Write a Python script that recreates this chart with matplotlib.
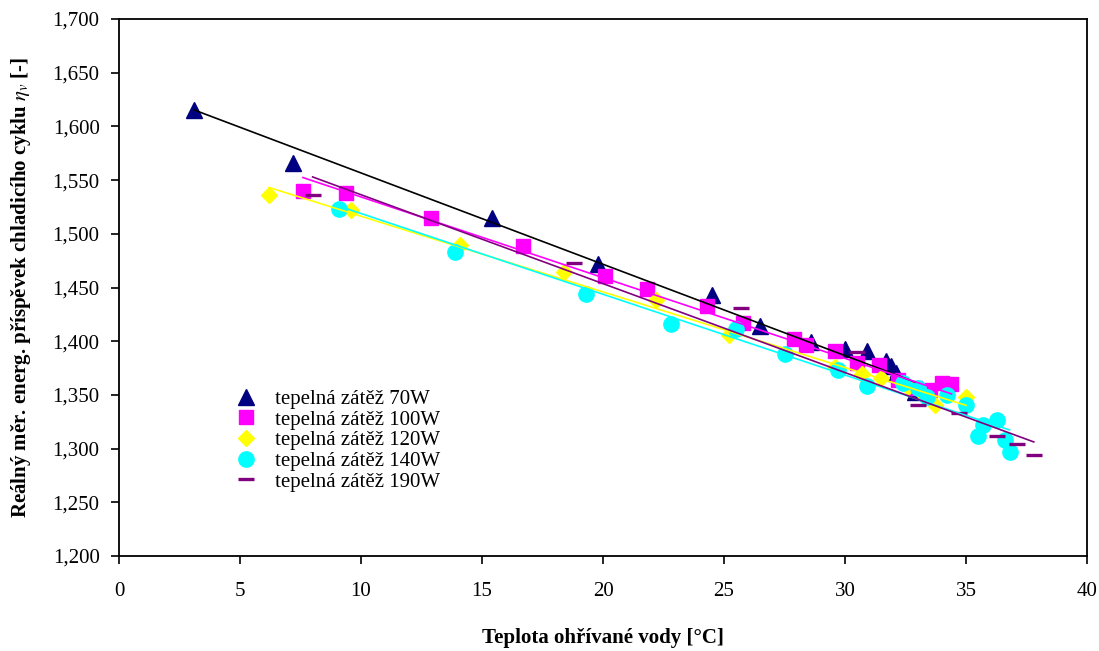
import numpy as np
import matplotlib
matplotlib.use("Agg")
import matplotlib.pyplot as plt
from matplotlib.ticker import FuncFormatter

plt.rcParams['font.family'] = ['Liberation Serif', 'DejaVu Serif']
plt.rcParams['mathtext.fontset'] = 'stix'

# Measurements per heat load: water temperature [°C] and efficiency ratio [-]
x_70 = [3.1, 7.2, 15.4, 19.8, 24.5, 26.5, 28.6, 30.0, 30.9, 31.7, 31.9, 32.1, 32.9]
y_70 = [1.615, 1.566, 1.515, 1.472, 1.443, 1.414, 1.399, 1.393, 1.391, 1.382, 1.377,
        1.370, 1.353]

x_100 = [7.6, 9.4, 12.9, 16.7, 20.1, 21.8, 24.3, 25.8, 27.9, 28.4, 29.6, 30.5, 31.4,
         32.2, 32.9, 33.5, 34.0, 34.4]
y_100 = [1.540, 1.538, 1.515, 1.489, 1.461, 1.449, 1.433, 1.417, 1.402, 1.396, 1.391,
         1.380, 1.378, 1.364, 1.356, 1.355, 1.361, 1.360]

x_120 = [6.2, 9.6, 14.1, 18.4, 22.2, 25.2, 29.6, 30.7, 31.5, 32.6, 33.2, 33.7, 35.0]
y_120 = [1.536, 1.522, 1.490, 1.464, 1.438, 1.406, 1.376, 1.369, 1.366, 1.357, 1.352,
         1.341, 1.348]

x_140 = [9.1, 13.9, 19.3, 22.8, 25.5, 27.5, 29.7, 30.9, 32.4, 33.0, 33.4, 34.2, 35.0,
         35.5, 35.7, 36.3, 36.6, 36.8]
y_140 = [1.523, 1.483, 1.444, 1.416, 1.411, 1.388, 1.373, 1.358, 1.361, 1.356, 1.348,
         1.350, 1.341, 1.312, 1.322, 1.327, 1.308, 1.297]

x_190 = [8.0, 18.8, 25.7, 30.5, 33.0, 34.7, 36.3, 37.1, 37.8]
y_190 = [1.536, 1.473, 1.431, 1.390, 1.341, 1.333, 1.312, 1.304, 1.294]

# Linear trend line coefficients (slope, intercept) for each heat load
trend_slope = [-0.008503, -0.007516, -0.007044, -0.007520, -0.008280]
trend_intercept = [1.6417, 1.6095, 1.5868, 1.5941, 1.6192]

labels = ['tepelná zátěž 70W', 'tepelná zátěž 100W', 'tepelná zátěž 120W',
          'tepelná zátěž 140W', 'tepelná zátěž 190W']

x_ticks = list(range(0, 41, 5))
y_ticks = [1.200, 1.250, 1.300, 1.350, 1.400, 1.450, 1.500, 1.550, 1.600, 1.650, 1.700]

series = [
    (x_70, y_70, dict(marker='^', ms=11, color='#000080', mec='#000080'), '#000000'),
    (x_100, y_100, dict(marker='s', ms=10.5, color='#FF00FF', mec='#FF00FF'), '#FF00FF'),
    (x_120, y_120, dict(marker='D', ms=8.5, color='#FFFF00', mec='#FFFF00'), '#FFFF00'),
    (x_140, y_140, dict(marker='o', ms=11, color='#00FFFF', mec='#00FFFF'), '#00FFFF'),
    (x_190, y_190, dict(marker='_', ms=11, color='#800080', mec='#800080', mew=2.4), '#800080'),
]

fig = plt.figure(figsize=(10.99, 6.51), dpi=100)
ax = fig.add_axes([119 / 1099, 1 - 556 / 651, (1087 - 119) / 1099, (556 - 19) / 651])

handles = []
for (xs, ys, style, _), lab in zip(series, labels):
    h, = ax.plot(xs, ys, linestyle='none', label=lab, zorder=3, **style)
    handles.append(h)

# Trend lines drawn over each series' measured temperature range
for (xs, ys, _, lc), k, q in zip(series, trend_slope, trend_intercept):
    xr = np.array([min(xs), max(xs)])
    ax.plot(xr, k * xr + q, color=lc, lw=1.2, zorder=4)

ax.set_xlim(0, 40)
ax.set_ylim(1.2, 1.7)
ax.set_xticks(x_ticks)
ax.set_yticks(y_ticks)
ax.yaxis.set_major_formatter(FuncFormatter(lambda v, p: f"{v:.3f}".replace('.', ',')))
ax.tick_params(direction='out', length=6, width=1.2, labelsize=15,
               top=False, right=False)
ax.tick_params(axis='x', pad=13)
ax.tick_params(axis='y', pad=8)
for s in ax.spines.values():
    s.set_linewidth(1.3)
    s.set_color('black')

ax.set_xlabel('Teplota ohřívané vody [°C]', fontsize=15, fontweight='bold', labelpad=19)
ax.set_ylabel('Reálný měr. energ. příspěvek chladicího cyklu $\\eta_v$ [-]',
              fontsize=15, fontweight='bold', labelpad=14)

ax.legend(handles=handles, loc='upper left', bbox_to_anchor=(0.118, 0.310),
          frameon=False, fontsize=15, labelspacing=0.05, handletextpad=0.8,
          handlelength=1.2, borderpad=0, borderaxespad=0)

fig.savefig('out.png', dpi=100)
